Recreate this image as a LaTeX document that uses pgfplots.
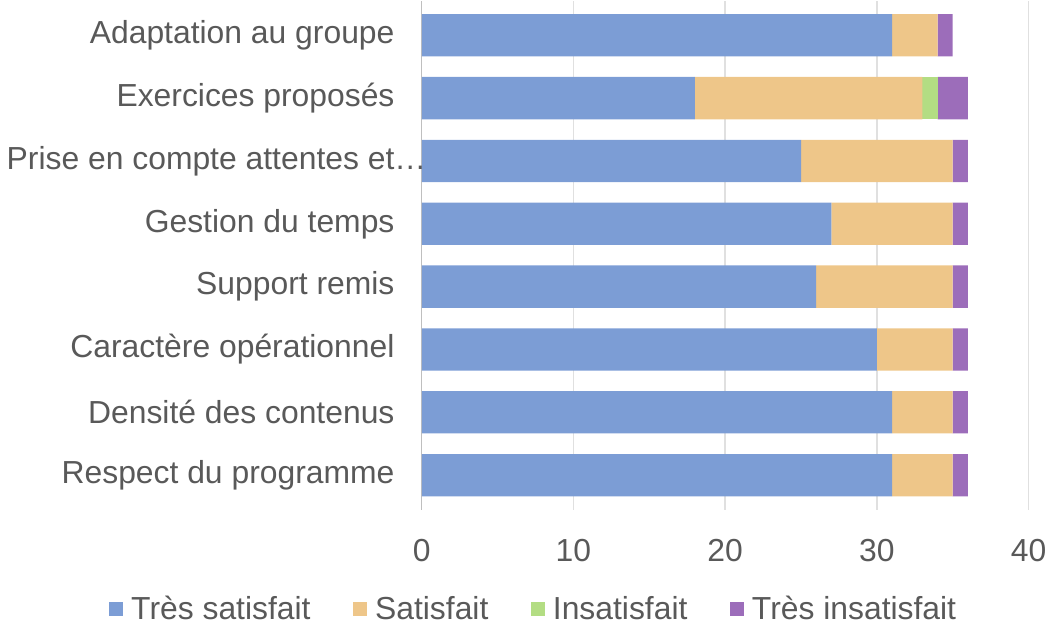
\documentclass[border=0pt]{standalone}
\usepackage{pgfplots}
\pgfplotsset{compat=1.18}
\usepackage{fontspec}
\setmainfont{Liberation Sans}
\definecolor{tsat}{HTML}{7C9DD5}
\definecolor{sat}{HTML}{EEC689}
\definecolor{insat}{HTML}{B3DD83}
\definecolor{tinsat}{HTML}{9C6DBA}
\definecolor{txt}{HTML}{595959}
\definecolor{gridc}{HTML}{E0E0E0}
\definecolor{axisc}{HTML}{BFBFBF}
\begin{document}
\begin{tikzpicture}
\begin{axis}[
    xbar stacked,
    width=301pt, height=252.5pt, scale only axis,
    bar width=21pt,
    xmin=0, xmax=40,
    ymin=-0.55, ymax=7.55,
    xtick={0,10,...,40},
    ytick={0,...,7},
    yticklabels={Respect du programme, Densité des contenus, Caractère opérationnel,
        Support remis, Gestion du temps, Prise en compte attentes et\rlap{…},
        Exercices proposés, Adaptation au groupe},
    xmajorgrids,
    grid style={draw=gridc, line width=0.7pt},
    axis lines*=left,
    x axis line style={draw=none},
    y axis line style={draw=axisc, line width=0.7pt},
    major tick length=0pt,
    /pgf/number format/assume math mode=true,
    ticklabel style={font=\fontsize{15.8}{19}\selectfont, text=txt},
    yticklabel style={xshift=-10pt},
    xticklabel style={yshift=-11pt},
    legend style={at={(0.186,-0.195)}, anchor=center, legend columns=4,
        draw=none, fill=none, font=\fontsize{15.8}{19}\selectfont, text=txt,
        /tikz/every odd column/.append style={column sep=2pt},
        /tikz/every even column/.append style={column sep=19pt}},
    legend image code/.code={\fill[#1] (0pt,-3.5pt) rectangle (7pt,3.5pt);},
]
\addplot[fill=tsat, draw=none] coordinates {(31,0) (31,1) (30,2) (26,3) (27,4) (25,5) (18,6) (31,7)};
\addplot[fill=sat, draw=none] coordinates {(4,0) (4,1) (5,2) (9,3) (8,4) (10,5) (15,6) (3,7)};
\addplot[fill=insat, draw=none] coordinates {(0,0) (0,1) (0,2) (0,3) (0,4) (0,5) (1,6) (0,7)};
\addplot[fill=tinsat, draw=none] coordinates {(1,0) (1,1) (1,2) (1,3) (1,4) (1,5) (2,6) (1,7)};
\legend{Très satisfait, Satisfait, Insatisfait, Très insatisfait}
\end{axis}
\end{tikzpicture}
\end{document}
